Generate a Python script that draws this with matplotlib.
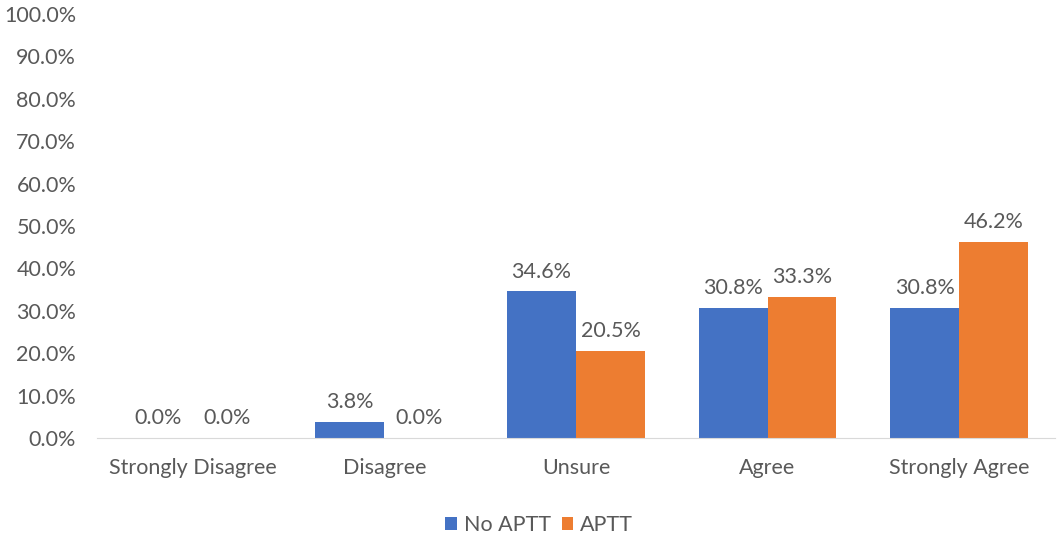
import matplotlib
matplotlib.use("Agg")
import matplotlib.pyplot as plt
import numpy as np

categories = ["Strongly Disagree", "Disagree", "Unsure", "Agree", "Strongly Agree"]
no_aptt = [0.0, 3.8, 34.6, 30.8, 30.8]
aptt = [0.0, 0.0, 20.5, 33.3, 46.2]
series_names = ["No APTT", "APTT"]
y_ticks = np.arange(0, 101, 10)

BLUE = "#4472C4"
ORANGE = "#ED7D31"
TEXT = "#595959"
FS = 15.5

plt.rcParams["font.family"] = ["Lato", "DejaVu Sans"]

fig = plt.figure(figsize=(10.57, 5.33), dpi=100)
ax = fig.add_axes([0.0918, 0.178, 0.9062, 0.7957])

x = np.arange(len(categories))
w = 0.36
b1 = ax.bar(x - w / 2, no_aptt, w, color=BLUE, label=series_names[0])
b2 = ax.bar(x + w / 2, aptt, w, color=ORANGE, label=series_names[1])

for bars, vals in ((b1, no_aptt), (b2, aptt)):
    for r, v in zip(bars, vals):
        ax.annotate(f"{v:.1f}%", (r.get_x() + r.get_width() / 2, v),
                    xytext=(0, 7), textcoords="offset points",
                    ha="center", va="bottom", fontsize=FS, color=TEXT)

ax.set_xlim(-0.5, len(categories) - 0.5)
ax.set_ylim(0, 100)
ax.set_yticks(y_ticks)
ax.set_yticklabels([f"{t:.1f}%" for t in y_ticks], fontsize=FS, color=TEXT)
ax.set_xticks(x)
ax.set_xticklabels(categories, fontsize=FS, color=TEXT)
ax.tick_params(axis="both", length=0)
ax.tick_params(axis="x", pad=14)
ax.tick_params(axis="y", pad=15)

for s in ["top", "right", "left"]:
    ax.spines[s].set_visible(False)
ax.spines["bottom"].set_color("#D9D9D9")

leg = fig.legend(loc="lower center", bbox_to_anchor=(0.51, -0.04), ncol=2, frameon=False,
                 fontsize=FS, handlelength=0.55, handleheight=0.55, handletextpad=0.3,
                 columnspacing=0.5)
for t in leg.get_texts():
    t.set_color(TEXT)

fig.savefig("out.png", dpi=100)
